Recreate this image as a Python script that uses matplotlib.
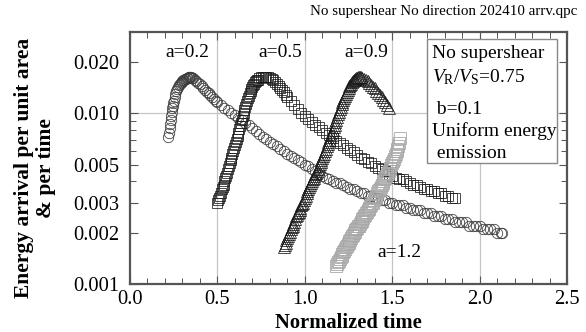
import matplotlib
matplotlib.use("Agg")
import matplotlib.pyplot as plt
from matplotlib.ticker import FixedLocator, FixedFormatter, MultipleLocator, NullFormatter
from matplotlib.patches import Rectangle

plt.rcParams['font.family'] = ['Liberation Serif', 'DejaVu Serif']
plt.rcParams['mathtext.fontset'] = 'custom'
plt.rcParams['mathtext.rm'] = 'Liberation Serif'
plt.rcParams['mathtext.it'] = 'Liberation Serif:italic'

# a=0.2 (circles): (normalized time, energy arrival)
pts_a02 = [(0.220, 0.0073), (0.223, 0.0077), (0.226, 0.0082), (0.229, 0.0087), (0.232, 0.0092),
           (0.235, 0.0097), (0.238, 0.0102), (0.241, 0.0107), (0.244, 0.0111), (0.247, 0.0115),
           (0.250, 0.0119), (0.255, 0.0125), (0.260, 0.0130), (0.265, 0.0135), (0.270, 0.0139),
           (0.275, 0.0143), (0.280, 0.0146), (0.285, 0.0149), (0.290, 0.0151), (0.295, 0.0153),
           (0.300, 0.0155), (0.305, 0.0157), (0.310, 0.0158), (0.315, 0.0159), (0.320, 0.0160),
           (0.325, 0.0161), (0.330, 0.0162), (0.335, 0.0163), (0.340, 0.0163), (0.345, 0.0163),
           (0.350, 0.0163), (0.355, 0.0162), (0.360, 0.0161), (0.37, 0.0158), (0.38, 0.0155),
           (0.39, 0.0151), (0.40, 0.0148), (0.41, 0.0144), (0.42, 0.0141), (0.43, 0.0137),
           (0.44, 0.0134), (0.45, 0.0131), (0.46, 0.0128), (0.47, 0.0125), (0.48, 0.0122),
           (0.49, 0.0119), (0.50, 0.0117), (0.52, 0.0112), (0.54, 0.0108), (0.56, 0.0104),
           (0.58, 0.0101), (0.60, 0.0098), (0.62, 0.0094), (0.64, 0.0091), (0.66, 0.0088),
           (0.68, 0.0085), (0.70, 0.0082), (0.72, 0.0079), (0.74, 0.0076), (0.76, 0.0073),
           (0.78, 0.0071), (0.80, 0.0068), (0.82, 0.0066), (0.84, 0.0064), (0.86, 0.0062),
           (0.88, 0.0060), (0.90, 0.0058), (0.92, 0.0056), (0.94, 0.0055), (0.96, 0.0053),
           (0.98, 0.0052), (1.00, 0.0050), (1.02, 0.0049), (1.04, 0.0047), (1.06, 0.0046),
           (1.08, 0.0044), (1.10, 0.0043), (1.12, 0.0042), (1.14, 0.0041), (1.16, 0.0040),
           (1.18, 0.0039), (1.20, 0.0039), (1.22, 0.0038), (1.24, 0.0037), (1.26, 0.0036),
           (1.28, 0.0036), (1.30, 0.0035), (1.32, 0.0034), (1.34, 0.0034), (1.36, 0.0033),
           (1.38, 0.0033), (1.40, 0.0032), (1.42, 0.0032), (1.44, 0.0031), (1.46, 0.0031),
           (1.48, 0.0030), (1.50, 0.0030), (1.52, 0.0029), (1.54, 0.0029), (1.56, 0.0029),
           (1.58, 0.0028), (1.60, 0.0028), (1.62, 0.0027), (1.64, 0.0027), (1.66, 0.0027),
           (1.68, 0.0026), (1.70, 0.0026), (1.72, 0.0026), (1.74, 0.0025), (1.76, 0.0025),
           (1.78, 0.0025), (1.80, 0.0024), (1.82, 0.0024), (1.84, 0.0024), (1.86, 0.0023),
           (1.88, 0.0023), (1.90, 0.0023), (1.92, 0.0023), (1.94, 0.0022), (1.96, 0.0022),
           (1.98, 0.0022), (2.00, 0.0022), (2.02, 0.0021), (2.04, 0.0021), (2.06, 0.0021),
           (2.08, 0.0021), (2.10, 0.0020), (2.12, 0.0020), (2.13, 0.0020)]

# a=0.5 (black squares)
pts_a05 = [(0.500, 0.0030), (0.505, 0.0031), (0.510, 0.0032), (0.515, 0.0033), (0.520, 0.0034),
           (0.525, 0.0036), (0.530, 0.0037), (0.535, 0.0038), (0.540, 0.0040), (0.545, 0.0042),
           (0.550, 0.0043), (0.555, 0.0045), (0.560, 0.0047), (0.565, 0.0049), (0.570, 0.0051),
           (0.575, 0.0053), (0.580, 0.0055), (0.585, 0.0058), (0.590, 0.0060), (0.595, 0.0063),
           (0.600, 0.0065), (0.605, 0.0068), (0.610, 0.0071), (0.615, 0.0074), (0.620, 0.0077),
           (0.625, 0.0081), (0.630, 0.0084), (0.635, 0.0088), (0.640, 0.0092), (0.645, 0.0096),
           (0.650, 0.0100), (0.655, 0.0105), (0.660, 0.0109), (0.665, 0.0114), (0.670, 0.0118),
           (0.675, 0.0123), (0.680, 0.0127), (0.685, 0.0131), (0.690, 0.0135), (0.695, 0.0139),
           (0.700, 0.0142), (0.705, 0.0146), (0.710, 0.0149), (0.715, 0.0152), (0.720, 0.0154),
           (0.725, 0.0156), (0.730, 0.0158), (0.74, 0.0161), (0.75, 0.0163), (0.76, 0.0164),
           (0.77, 0.0164), (0.78, 0.0164), (0.79, 0.0163), (0.80, 0.0161), (0.81, 0.0159),
           (0.82, 0.0156), (0.83, 0.0153), (0.84, 0.0149), (0.85, 0.0145), (0.86, 0.0141),
           (0.87, 0.0137), (0.88, 0.0133), (0.89, 0.0129), (0.90, 0.0125), (0.92, 0.0118),
           (0.94, 0.0112), (0.96, 0.0106), (0.98, 0.0101), (1.00, 0.0096), (1.02, 0.0093),
           (1.04, 0.0089), (1.06, 0.0086), (1.08, 0.0083), (1.10, 0.0080), (1.12, 0.0077),
           (1.14, 0.0075), (1.16, 0.0072), (1.18, 0.0069), (1.20, 0.0067), (1.22, 0.0065),
           (1.24, 0.0063), (1.26, 0.0061), (1.28, 0.0059), (1.30, 0.0057), (1.32, 0.0055),
           (1.34, 0.0054), (1.36, 0.0052), (1.38, 0.0051), (1.40, 0.0049), (1.42, 0.0048),
           (1.44, 0.0047), (1.46, 0.0046), (1.48, 0.0044), (1.50, 0.0043), (1.52, 0.0042),
           (1.54, 0.0041), (1.56, 0.0041), (1.58, 0.0040), (1.60, 0.0039), (1.62, 0.0038),
           (1.64, 0.0038), (1.66, 0.0037), (1.68, 0.0036), (1.70, 0.0036), (1.72, 0.0035),
           (1.74, 0.0035), (1.76, 0.0034), (1.78, 0.0034), (1.80, 0.0033), (1.82, 0.0033),
           (1.84, 0.0032), (1.86, 0.0032)]

# a=0.9 (triangles)
pts_a09 = [(0.880, 0.00165), (0.885, 0.00170), (0.890, 0.00175), (0.895, 0.00180), (0.900, 0.00185),
           (0.905, 0.00190), (0.910, 0.00196), (0.915, 0.00203), (0.920, 0.00210), (0.925, 0.00215),
           (0.930, 0.00220), (0.935, 0.00225), (0.940, 0.00230), (0.945, 0.00240), (0.950, 0.00250),
           (0.955, 0.00255), (0.960, 0.00260), (0.965, 0.00265), (0.970, 0.00270), (0.975, 0.00280),
           (0.980, 0.00290), (0.985, 0.00295), (0.990, 0.00300), (0.995, 0.00310), (1.000, 0.00320),
           (1.005, 0.00330), (1.010, 0.00340), (1.015, 0.00350), (1.020, 0.00360), (1.025, 0.00370),
           (1.030, 0.00380), (1.035, 0.00390), (1.040, 0.00400), (1.045, 0.00410), (1.050, 0.00420),
           (1.055, 0.00430), (1.060, 0.00440), (1.065, 0.00450), (1.070, 0.00460), (1.075, 0.00475),
           (1.080, 0.00490), (1.085, 0.00505), (1.090, 0.00520), (1.095, 0.00535), (1.100, 0.00550),
           (1.105, 0.00565), (1.110, 0.00580), (1.115, 0.00600), (1.120, 0.00620), (1.125, 0.00640),
           (1.130, 0.00660), (1.135, 0.00680), (1.140, 0.00700), (1.145, 0.00725), (1.150, 0.00750),
           (1.155, 0.00775), (1.160, 0.00800), (1.165, 0.00830), (1.170, 0.00860), (1.175, 0.00890),
           (1.180, 0.00920), (1.185, 0.00955), (1.190, 0.00990), (1.195, 0.01025), (1.200, 0.01060),
           (1.205, 0.01095), (1.210, 0.01130), (1.215, 0.01165), (1.220, 0.01200), (1.225, 0.01235),
           (1.230, 0.01270), (1.235, 0.01305), (1.240, 0.01340), (1.245, 0.01375), (1.250, 0.01410),
           (1.255, 0.01440), (1.260, 0.01470), (1.265, 0.01495), (1.270, 0.01520), (1.275, 0.01540),
           (1.280, 0.01560), (1.285, 0.01575), (1.290, 0.01590), (1.295, 0.01605), (1.300, 0.01620),
           (1.305, 0.01625), (1.310, 0.01630), (1.315, 0.01630), (1.320, 0.01630), (1.33, 0.0162),
           (1.34, 0.0160), (1.35, 0.0157), (1.36, 0.0154), (1.37, 0.0151), (1.38, 0.0147),
           (1.39, 0.0143), (1.40, 0.0140), (1.41, 0.0136), (1.42, 0.0132), (1.43, 0.0128),
           (1.44, 0.0124), (1.45, 0.0120), (1.46, 0.0116), (1.47, 0.0112), (1.48, 0.0108)]

# a=1.2 (grey squares)
pts_a12 = [(1.180, 0.00128), (1.185, 0.00131), (1.190, 0.00134), (1.195, 0.00137), (1.200, 0.00140),
           (1.205, 0.00143), (1.210, 0.00146), (1.215, 0.00150), (1.220, 0.00153), (1.225, 0.00156),
           (1.230, 0.00160), (1.235, 0.00164), (1.240, 0.00167), (1.245, 0.00171), (1.250, 0.00174),
           (1.255, 0.00178), (1.260, 0.00182), (1.265, 0.00186), (1.270, 0.00190), (1.275, 0.00194),
           (1.280, 0.00198), (1.285, 0.00202), (1.290, 0.00206), (1.295, 0.00210), (1.300, 0.00214),
           (1.305, 0.00218), (1.310, 0.00220), (1.315, 0.00225), (1.320, 0.00230), (1.325, 0.00235),
           (1.330, 0.00240), (1.335, 0.00245), (1.340, 0.00250), (1.345, 0.00255), (1.350, 0.00260),
           (1.355, 0.00265), (1.360, 0.00270), (1.365, 0.00275), (1.370, 0.00280), (1.375, 0.00285),
           (1.380, 0.00290), (1.385, 0.00297), (1.390, 0.00300), (1.395, 0.00310), (1.400, 0.00320),
           (1.405, 0.00325), (1.410, 0.00330), (1.415, 0.00340), (1.420, 0.00350), (1.425, 0.00355),
           (1.430, 0.00360), (1.435, 0.00370), (1.440, 0.00380), (1.445, 0.00390), (1.450, 0.00400),
           (1.455, 0.00410), (1.460, 0.00420), (1.465, 0.00430), (1.470, 0.00440), (1.475, 0.00450),
           (1.480, 0.00460), (1.485, 0.00470), (1.490, 0.00480), (1.495, 0.00495), (1.500, 0.00510),
           (1.505, 0.00525), (1.510, 0.00540), (1.515, 0.00560), (1.520, 0.00580), (1.525, 0.00600),
           (1.530, 0.00620), (1.535, 0.00645), (1.540, 0.00670), (1.545, 0.00720)]

t_a02, v_a02 = zip(*pts_a02)
t_a05, v_a05 = zip(*pts_a05)
t_a09, v_a09 = zip(*pts_a09)
t_a12, v_a12 = zip(*pts_a12)

curve_labels = ["a=0.2", "a=0.5", "a=0.9", "a=1.2"]
label_pos_t = [0.326, 0.857, 1.35, 1.543]
label_pos_v = [0.0226, 0.0226, 0.0226, 0.00152]

y_tick_vals = [0.001, 0.002, 0.003, 0.005, 0.010, 0.020]
y_tick_labels = ["0.001", "0.002", "0.003", "0.005", "0.010", "0.020"]
y_minor_vals = [0.004, 0.006, 0.007, 0.008, 0.009, 0.03]
x_tick_vals = [0.0, 0.5, 1.0, 1.5, 2.0, 2.5]
x_tick_labels = ["0.0", "0.5", "1.0", "1.5", "2.0", "2.5"]

box_lines = ["No supershear", r"$V_{\rm R}/V_{\rm S}$=0.75", " b=0.1", "Uniform energy", " emission"]

W, H = 586, 332
fig = plt.figure(figsize=(W / 100, H / 100), dpi=100)
ax = fig.add_axes([130 / W, 1 - 284 / H, 437 / W, 252 / H])
ax.set_yscale('log')
ax.set_xlim(0, 2.5)
ax.set_ylim(0.001, 0.03)

grid_c = '#c4c4c4'
for xv in x_tick_vals[1:-1]:
    ax.axvline(xv, color=grid_c, lw=0.9, zorder=0)
ax.axhline(0.01, color=grid_c, lw=0.9, zorder=0)

ax.plot(t_a02, v_a02, ls='none', marker='o', ms=7.5, mfc='none', mec='#3a3a3a', mew=0.55, zorder=2)
ax.plot(t_a05, v_a05, ls='none', marker='s', ms=7.5, mfc='none', mec='#1a1a1a', mew=0.55, zorder=3)
ax.plot(t_a09, v_a09, ls='none', marker='^', ms=8.5, mfc='none', mec='#1a1a1a', mew=0.55, zorder=4)
ax.plot(t_a12, v_a12, ls='none', marker='s', ms=9, mfc='none', mec='#a8a8a8', mew=0.6, zorder=5)

ax.yaxis.set_major_locator(FixedLocator(y_tick_vals))
ax.yaxis.set_major_formatter(FixedFormatter(y_tick_labels))
ax.yaxis.set_minor_locator(FixedLocator(y_minor_vals))
ax.yaxis.set_minor_formatter(NullFormatter())
ax.xaxis.set_major_locator(FixedLocator(x_tick_vals))
ax.xaxis.set_major_formatter(FixedFormatter(x_tick_labels))
ax.xaxis.set_minor_locator(MultipleLocator(0.1))

ax.tick_params(which='both', direction='in', top=True, right=True, colors='#555555',
               labelcolor='black', labelsize=14.8)
ax.tick_params(which='major', length=6, width=0.8)
ax.tick_params(which='minor', length=4, width=0.7)
ax.tick_params(axis='x', pad=4.5)
ax.tick_params(axis='y', pad=8)
for s in ax.spines.values():
    s.set_color('#555555')
    s.set_linewidth(1.6)

fig.text(348 / W, 1 - 322.5 / H, "Normalized time", fontsize=14.8, fontweight='bold',
         ha='center', va='center')
fig.text(35 / W, 1 - 168 / H, "Energy arrival per unit area\n& per time", fontsize=15.5,
         fontweight='bold', rotation=90, ha='center', va='center', multialignment='center',
         linespacing=1.1)

for lab, tx, vy in zip(curve_labels, label_pos_t, label_pos_v):
    ax.text(tx, vy, lab, fontsize=14, ha='center', va='center', zorder=6)

# info box
bx0, bx1 = (427 - 130) / 437, (557 - 130) / 437
by0, by1 = (284 - 163) / 252, (284 - 39) / 252
ax.add_patch(Rectangle((bx0, by0), bx1 - bx0, by1 - by0, transform=ax.transAxes,
                       facecolor='white', edgecolor='#888888', lw=1.0, zorder=7))
line_y = [53, 77, 110, 131, 153]
for txt, yy in zip(box_lines, line_y):
    ax.text((432 - 130) / 437, (284 - yy) / 252, txt, transform=ax.transAxes,
            fontsize=14, ha='left', va='center', zorder=8)

fig.text(577 / W, 1 - 12 / H, "No supershear No direction 202410 arrv.qpc",
         fontsize=10.8, ha='right', va='center')

fig.savefig("out.png", dpi=100)
